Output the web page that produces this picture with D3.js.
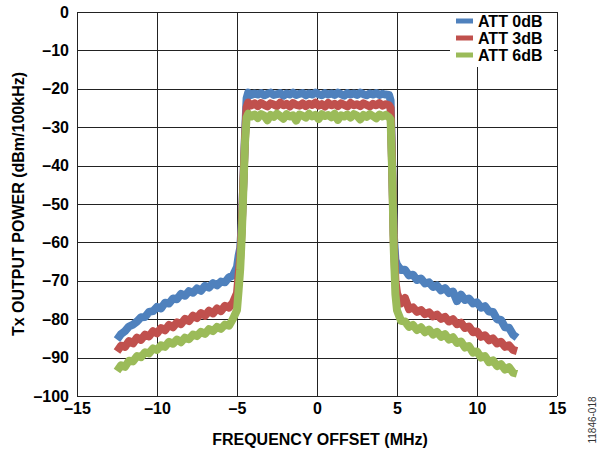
<!DOCTYPE html>
<html>
<head>
<meta charset="utf-8">
<script src="https://cdn.jsdelivr.net/npm/d3@7/dist/d3.min.js"></script>
<style>
  html, body { margin: 0; padding: 0; background: #fff; }
  svg { display: block; }
  text { font-family: "Liberation Sans", Arial, sans-serif; }
</style>
</head>
<body>
<svg id="chart" width="604" height="452"></svg>
<script>
// ---- data ----
const freqMHz = [
  -12.5, -12.25, -12, -11.75, -11.5, -11.25, -11, -10.75, -10.5, -10.25, -10, -9.75, -9.5, -9.25, -9, -8.75,
  -8.5, -8.25, -8, -7.75, -7.5, -7.25, -7, -6.75, -6.5, -6.25, -6, -5.75, -5.5, -5.25, -5,
  -4.9, -4.8, -4.7, -4.6, -4.5, -4.4,
  -4.3, -4.1, -3.9, -3.7, -3.5, -3.3, -3.1, -2.9, -2.7, -2.5, -2.3, -2.1, -1.9, -1.7, -1.5, -1.3, -1.1,
  -0.9, -0.7, -0.5, -0.3, -0.1, 0.1, 0.3, 0.5, 0.7, 0.9, 1.1, 1.3, 1.5, 1.7, 1.9, 2.1, 2.3, 2.5, 2.7,
  2.9, 3.1, 3.3, 3.5, 3.7, 3.9, 4.1, 4.3, 4.5,
  4.6, 4.7, 4.8, 4.9,
  5, 5.25, 5.5, 5.75, 6, 6.25, 6.5, 6.75, 7, 7.25, 7.5, 7.75, 8, 8.25, 8.5, 8.75, 9, 9.25, 9.5, 9.75,
  10, 10.25, 10.5, 10.75, 11, 11.25, 11.5, 11.75, 12, 12.25, 12.5
];

const att0dB = [
  -85.3, -83.9, -83.1, -81.9, -81.4, -80.6, -79.5, -79.4, -78.1, -77.9, -76.8, -77.2, -75.7, -75.9, -74.6, -74.8,
  -73.4, -73.9, -72.7, -73.1, -72.0, -72.6, -71.3, -71.8, -70.6, -71.2, -70.2, -70.4, -69.1, -68.6, -66.4,
  -63.5, -61.5, -55, -44, -32, -22.5,
  -21.0, -21.6, -21.2, -21.5, -21.1, -21.7, -21.3, -21.0, -21.6, -21.4, -21.1, -21.8, -21.2, -21.5, -21.0, -21.6, -21.3,
  -21.1, -21.7, -21.2, -21.5, -21.0, -21.4, -21.7, -21.1, -21.5, -21.2, -21.6, -21.0, -21.4, -21.8, -21.1, -21.5, -21.2, -21.6,
  -21.0, -21.4, -21.7, -21.2, -21.5, -21.1, -21.6, -21.3, -21.5, -21.6,
  -23, -40, -58, -64.5,
  -65.8, -67.2, -67.1, -68.6, -68.4, -69.8, -69.4, -70.7, -70.4, -71.6, -71.2, -72.5, -71.9, -73.2, -72.8, -75.3,
  -73.6, -75.0, -74.6, -75.9, -75.6, -77.0, -76.6, -78.0, -78.1, -80.0, -80.2, -82.1, -82.2, -84.0, -84.8
];

const att3dB = [
  -88.4, -86.9, -87.2, -85.7, -86.3, -84.8, -85.4, -84.0, -84.5, -83.1, -83.7, -82.3, -82.9, -81.5, -82.1, -80.8,
  -81.3, -79.9, -80.5, -79.1, -79.7, -78.4, -79.1, -77.8, -78.5, -77.2, -77.9, -76.5, -77.0, -75.6, -73.2,
  -68.5, -64, -56, -44, -33, -24.8,
  -23.6, -24.3, -23.8, -24.5, -23.7, -24.2, -24.6, -23.8, -24.1, -24.5, -23.6, -24.3, -23.9, -24.6, -23.7, -24.2, -24.4,
  -23.8, -24.5, -23.9, -24.2, -23.6, -24.4, -24.0, -24.6, -23.7, -24.3, -23.9, -24.5, -23.8, -24.2, -24.6, -23.7, -24.3, -24.0,
  -24.5, -23.8, -24.2, -24.6, -23.9, -24.3, -23.7, -24.4, -24.0, -24.3,
  -25, -41, -60, -70,
  -73.2, -75.9, -74.5, -77.4, -76.9, -78.1, -77.6, -78.7, -78.2, -79.3, -78.8, -79.9, -79.4, -80.6, -80.0, -81.3,
  -80.9, -82.3, -81.9, -83.4, -83.2, -84.6, -84.2, -85.5, -85.0, -86.3, -85.9, -87.2, -86.8, -88.0, -88.3
];

const att6dB = [
  -93.5, -92.0, -92.4, -90.8, -91.0, -89.6, -89.9, -88.6, -88.9, -87.6, -88.0, -86.8, -87.2, -85.9, -86.4, -85.3,
  -86.0, -84.8, -85.2, -84.0, -84.4, -83.3, -83.8, -82.6, -83.1, -82.0, -82.5, -81.4, -81.7, -79.9, -77.6,
  -72.5, -67, -58, -46, -34, -27.5,
  -26.5, -27.2, -26.7, -27.6, -26.6, -27.0, -28.2, -26.8, -27.3, -26.5, -27.1, -27.8, -26.6, -27.2, -26.9, -28.3, -26.7,
  -27.0, -27.5, -26.5, -27.2, -26.8, -27.9, -26.6, -27.1, -26.8, -27.4, -26.5, -28.1, -26.9, -27.2, -26.7, -27.5, -26.6, -27.0,
  -28.0, -26.8, -27.3, -26.6, -27.1, -27.7, -26.7, -27.2, -26.8, -27.4,
  -28, -42, -62, -73.5,
  -77.7, -80.4, -80.6, -82.0, -81.5, -82.8, -82.1, -83.4, -82.7, -84.0, -83.3, -84.6, -83.9, -85.3, -84.7, -86.2,
  -85.8, -87.4, -87.0, -88.7, -88.4, -90.0, -89.6, -91.2, -90.7, -92.2, -91.7, -93.1, -92.5, -93.9, -94.2
];

const seriesNames = ["ATT 0dB", "ATT 3dB", "ATT 6dB"];
const seriesColors = ["#4F81BD", "#C0504D", "#9BBB59"];
const xTicks = [-15, -10, -5, 0, 5, 10, 15];
const yTicks = [0, -10, -20, -30, -40, -50, -60, -70, -80, -90, -100];
const xTitle = "FREQUENCY OFFSET (MHz)";
const yTitle = "Tx OUTPUT POWER (dBm/100kHz)";
const figId = "11846-018";

// ---- layout ----
const L = 77, R = 557, T = 12, B = 396;
const svg = d3.select("#chart");
svg.append("rect").attr("width", 604).attr("height", 452).attr("fill", "#fff");

const x = d3.scaleLinear().domain([-15, 15]).range([L, R]);
const y = d3.scaleLinear().domain([-100, 0]).range([B, T]);
const fmt = d => d < 0 ? "\u2013" + Math.abs(d) : String(d);

// grid + axes
const gy = svg.append("g").attr("transform", `translate(${L},0)`)
  .call(d3.axisLeft(y).tickValues(yTicks).tickSize(-(R - L)).tickPadding(8).tickFormat(fmt));
const gx = svg.append("g").attr("transform", `translate(0,${B})`)
  .call(d3.axisBottom(x).tickValues(xTicks).tickSize(-(B - T)).tickPadding(7).tickFormat(fmt));
[gy, gx].forEach(g => {
  g.select(".domain").remove();
  g.selectAll(".tick line").attr("stroke", "#222").attr("stroke-width", 1).attr("shape-rendering", "crispEdges");
  g.selectAll(".tick text").attr("fill", "#000").attr("font-size", 16).attr("font-weight", "bold")
    .attr("font-family", "'Liberation Sans', Arial, sans-serif");
});

// series
const line = d3.line().x(d => x(d.x)).y(d => y(d.y));
const allSeries = [att0dB, att3dB, att6dB];
allSeries.forEach((vals, i) => {
  const data = freqMHz.map((f, k) => ({ x: f, y: vals[k] }));
  svg.append("path").datum(data)
    .attr("fill", "none").attr("stroke", seriesColors[i])
    .attr("stroke-width", 8).attr("stroke-linejoin", "round").attr("stroke-linecap", "butt")
    .attr("d", line);
});

// legend
const lg = svg.append("g");
lg.append("rect").attr("x", 450).attr("y", T + 1).attr("width", 104).attr("height", 54).attr("fill", "#fff");
seriesNames.forEach((n, i) => {
  const yy = 21 + i * 17;
  lg.append("line").attr("x1", 456).attr("x2", 473).attr("y1", yy).attr("y2", yy)
    .attr("stroke", seriesColors[i]).attr("stroke-width", 5);
  lg.append("text").attr("x", 478).attr("y", yy).attr("dy", "0.36em")
    .attr("font-size", 16).attr("font-weight", "bold").text(n);
});

// titles
svg.append("text").attr("x", 320).attr("y", 445).attr("text-anchor", "middle")
  .attr("font-size", 16).attr("font-weight", "bold").text(xTitle);
svg.append("text").attr("transform", `translate(24,${(T + B) / 2}) rotate(-90)`)
  .attr("text-anchor", "middle").attr("font-size", 16).attr("font-weight", "bold").text(yTitle);
svg.append("text").attr("transform", "translate(596,420) rotate(-90)")
  .attr("text-anchor", "middle").attr("font-size", 10).attr("fill", "#333").text(figId);
</script>
</body>
</html>
